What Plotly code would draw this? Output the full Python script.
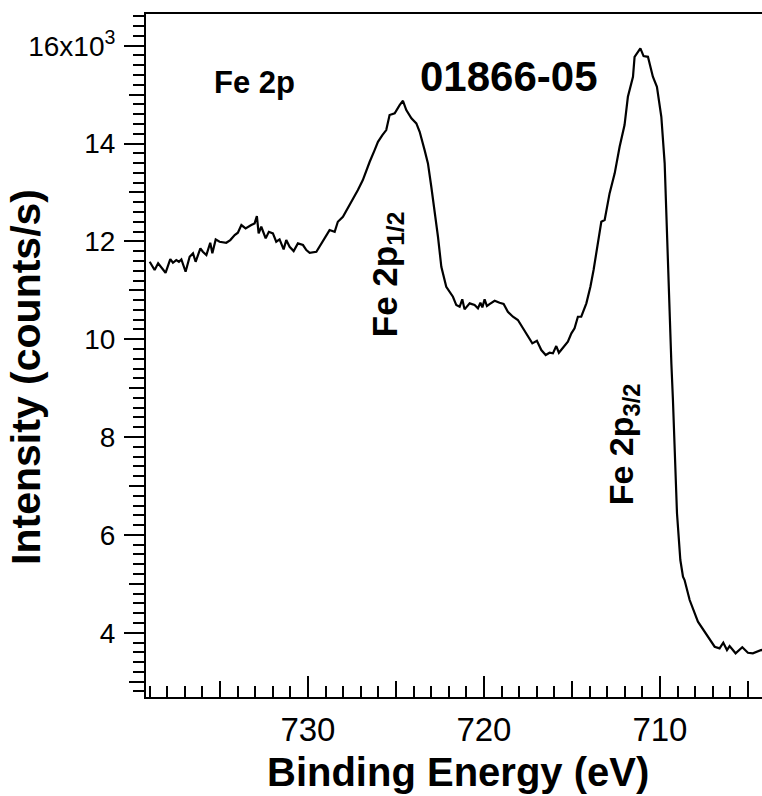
import plotly.graph_objects as go

# Fe 2p XPS spectrum, sample 01866-05
binding_energy = [
    738.99, 738.71, 738.51, 738.33, 738.09, 737.82, 737.67, 737.48, 737.33, 737.19,
    736.95, 736.72, 736.53, 736.38, 736.11, 735.97, 735.77, 735.55, 735.43, 735.24,
    735.02, 734.64, 734.41, 734.16, 733.98, 733.78, 733.54, 733.22, 733.03, 732.90,
    732.80, 732.65, 732.40, 732.22, 731.99, 731.80, 731.61, 731.38, 731.23, 731.04,
    730.81, 730.57, 730.28, 730.09, 729.90, 729.52, 729.24, 728.95, 728.77, 728.48,
    728.30, 728.01, 727.73, 727.44, 727.16, 726.88, 726.68, 726.49, 726.21, 726.02,
    725.77, 725.55, 725.36, 725.07, 724.79, 724.60, 724.41, 724.12, 723.84, 723.65,
    723.37, 723.18, 722.99, 722.80, 722.61, 722.42, 722.14, 721.76, 721.57, 721.38,
    721.23, 721.10, 720.81, 720.53, 720.34, 720.20, 720.09, 719.96, 719.83, 719.68,
    719.39, 719.11, 718.88, 718.64, 718.35, 718.07, 717.78, 717.50, 717.25, 716.99,
    716.74, 716.49, 716.27, 716.08, 715.89, 715.74, 715.47, 715.23, 715.03, 714.85,
    714.66, 714.47, 714.18, 713.95, 713.77, 713.53, 713.33, 713.14, 712.86, 712.57,
    712.29, 712.01, 711.82, 711.53, 711.44, 711.11, 710.93, 710.68, 710.40, 710.17,
    709.92, 709.73, 709.55, 709.35, 709.26, 709.17, 709.03, 708.84, 708.69, 708.60,
    708.31, 707.84, 707.46, 707.27, 706.89, 706.61, 706.40, 706.19, 706.04, 705.70,
    705.32, 705.00, 704.72, 704.24, 704.10,
]
intensity = [
    11583, 11414, 11551, 11469, 11358, 11638, 11563, 11618, 11583, 11632,
    11379, 11685, 11755, 11583, 11857, 11788, 11720, 11972, 11755, 12041,
    11992, 11972, 12027, 12129, 12176, 12333, 12266, 12333, 12368, 12517,
    12164, 12299, 12061, 12196, 12164, 11992, 12041, 11837, 12027, 11890,
    11802, 11959, 11925, 11822, 11767, 11788, 11959, 12129, 12231, 12196,
    12401, 12503, 12675, 12879, 13049, 13253, 13458, 13627, 13866, 14036,
    14173, 14275, 14582, 14617, 14786, 14874, 14684, 14514, 14412, 14240,
    13866, 13594, 13116, 12640, 12094, 11481, 11072, 10868, 10698, 10663,
    10815, 10610, 10733, 10698, 10631, 10745, 10651, 10815, 10678, 10719,
    10786, 10745, 10719, 10561, 10459, 10392, 10222, 10085, 9915, 9968,
    9778, 9676, 9723, 9711, 9860, 9723, 9846, 9948, 10120, 10222,
    10459, 10459, 10733, 11072, 11414, 11959, 12401, 12436, 12981, 13390,
    13934, 14377, 14956, 15365, 15773, 15945, 15788, 15773, 15365, 15160,
    14547, 13594, 11551, 9507, 8756, 7802, 6441, 5486, 5145, 5077,
    4668, 4225, 4020, 3918, 3714, 3681, 3796, 3646, 3728, 3579,
    3702, 3591, 3579, 3646, 3630,
]

x_range = [739.2, 704.2]
y_range = [2686, 16648]

x_major_vals = [730, 720, 710]
x_major_text = ["730", "720", "710"]

y_labels = {4000: "4", 6000: "6", 8000: "8", 10000: "10", 12000: "12",
            14000: "14", 16000: "16x10<sup>3</sup>"}

# in-plot labels: (text, binding energy, intensity, font size, angle)
peak_labels = [
    ("<b>Fe 2p</b>", 733.03, 15256, 31, 0),
    ("<b>01866-05</b>", 718.6, 15380, 42, 0),
    ("<b>Fe 2p<sub>1/2</sub></b>", 725.5, 11311, 35, -90),
    ("<b>Fe 2p<sub>3/2</sub></b>", 712.1, 7850, 34, -90),
]

FONT = "Liberation Sans, Arial, Helvetica, sans-serif"
INK = "black"

# every 200 counts carries a short tick; only the 2000 steps are labelled
y_comb_vals = list(range(2800, 16649, 200))
y_comb_text = [y_labels.get(v, "") for v in y_comb_vals]


def x_frac(e):
    return (e - x_range[0]) / (x_range[1] - x_range[0])


def y_frac(v):
    return (v - y_range[0]) / (y_range[1] - y_range[0])


fig = go.Figure()
fig.add_trace(go.Scatter(
    x=binding_energy, y=intensity, mode="lines",
    line=dict(color=INK, width=2.2), showlegend=False,
))
# companion traces carrying the overlaid axes used for the longer ticks
for xa, ya in (("x2", "y2"), ("x3", "y3")):
    fig.add_trace(go.Scatter(
        x=binding_energy, y=intensity, mode="lines", xaxis=xa, yaxis=ya,
        line=dict(color="rgba(0,0,0,0)", width=0), showlegend=False,
    ))


def tick_axis(rng, overlay, anchor, side, direction, length, tick0, dtick):
    return dict(
        range=rng, overlaying=overlay, anchor=anchor, side=side,
        showgrid=False, zeroline=False, showline=False,
        ticks=direction, ticklen=length, tickwidth=2, tickcolor=INK,
        tickmode="linear", tick0=tick0, dtick=dtick, showticklabels=False,
    )


fig.update_layout(
    width=762, height=796,
    margin=dict(l=146, r=0, t=14, b=99, autoexpand=False),
    paper_bgcolor="white", plot_bgcolor="white",
    font=dict(family=FONT, color=INK),
    xaxis=dict(
        range=x_range, showgrid=False, zeroline=False,
        showline=True, linewidth=2, linecolor=INK, mirror=True,
        ticks="inside", ticklen=21, tickwidth=2, tickcolor=INK,
        tickmode="array", tickvals=x_major_vals, ticktext=x_major_text,
        tickfont=dict(size=33, family=FONT, color=INK),
        ticklabelstandoff=2,
    ),
    # 5 eV ticks and 1 eV ticks
    xaxis2=tick_axis(x_range, "x", "y", "bottom", "inside", 16, 705, 5),
    xaxis3=tick_axis(x_range, "x", "y", "bottom", "inside", 11, 700, 1),
    yaxis=dict(
        range=y_range, showgrid=False, zeroline=False,
        showline=True, linewidth=2, linecolor=INK,
        ticks="outside", ticklen=11, tickwidth=2, tickcolor=INK,
        tickmode="array", tickvals=y_comb_vals, ticktext=y_comb_text,
        tickfont=dict(size=28, family=FONT, color=INK),
        ticklabelstandoff=12,
    ),
    # longer ticks every 1000 and 2000 counts
    yaxis2=tick_axis(y_range, "y", "x", "left", "outside", 16, 1000, 1000),
    yaxis3=tick_axis(y_range, "y", "x", "left", "outside", 21, 0, 2000),
)

annotations = [
    dict(text="<b>Binding Energy (eV)</b>", x=0.5065, y=-0.11,
         xanchor="center", yanchor="middle", textangle=0,
         font=dict(size=40, family=FONT, color=INK)),
    dict(text="<b>Intensity (counts/s)</b>", x=-0.195, y=0.4685,
         xanchor="center", yanchor="middle", textangle=-90,
         font=dict(size=41, family=FONT, color=INK)),
]
for text, e, v, size, angle in peak_labels:
    annotations.append(dict(
        text=text, x=x_frac(e), y=y_frac(v), xanchor="center", yanchor="middle",
        textangle=angle, font=dict(size=size, family=FONT, color=INK),
    ))
for a in annotations:
    a.update(xref="paper", yref="paper", showarrow=False)
fig.update_layout(annotations=annotations)

fig.write_html("out.html")
